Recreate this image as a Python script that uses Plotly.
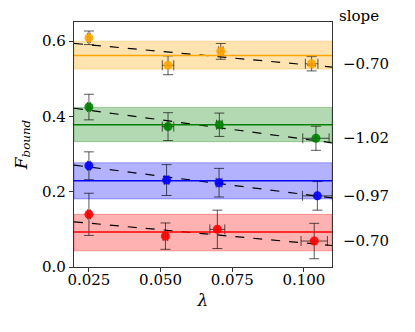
import numpy as np
import plotly.graph_objects as go

# data
colors = ["orange", "green", "blue", "red"]
fill_colors = ["rgba(255,165,0,0.3)", "rgba(0,128,0,0.3)", "rgba(0,0,255,0.3)", "rgba(255,0,0,0.3)"]

lam = [
    [0.025, 0.0526, 0.0710, 0.1027],
    [0.025, 0.0526, 0.0705, 0.1042],
    [0.025, 0.0521, 0.0704, 0.1047],
    [0.025, 0.0517, 0.0698, 0.1036],
]
lam_err = [
    [0.0005, 0.0020, 0.0008, 0.0022],
    [0.0005, 0.0020, 0.0010, 0.0046],
    [0.0005, 0.0008, 0.0010, 0.0052],
    [0.0005, 0.0008, 0.0026, 0.0046],
]
f_bound = [
    [0.609, 0.536, 0.573, 0.540],
    [0.425, 0.373, 0.378, 0.342],
    [0.269, 0.231, 0.224, 0.189],
    [0.140, 0.082, 0.100, 0.069],
]
f_err = [
    [0.018, 0.025, 0.021, 0.019],
    [0.034, 0.037, 0.031, 0.032],
    [0.037, 0.041, 0.038, 0.038],
    [0.056, 0.035, 0.051, 0.047],
]
mean_f = [0.562, 0.378, 0.229, 0.093]
band_lo = [0.526, 0.333, 0.181, 0.043]
band_hi = [0.600, 0.424, 0.277, 0.140]
slopes = [-0.70, -1.02, -0.97, -0.70]
intercepts = [0.608, 0.442, 0.290, 0.134]
slope_labels = ["\u22120.70", "\u22121.02", "\u22120.97", "\u22120.70"]

x_range = [0.0198, 0.1098]
y_range = [0.0, 0.651]
font_family = "DejaVu Serif"

fig = go.Figure()

for i in range(4):
    # spread band
    fig.add_hrect(y0=band_lo[i], y1=band_hi[i], fillcolor=fill_colors[i],
                  line=dict(color=fill_colors[i], width=1), layer="below")
    # mean line
    fig.add_hline(y=mean_f[i], line=dict(color=colors[i], width=1.5))

    # linear fit (dashed)
    xs = np.array(x_range)
    fig.add_trace(go.Scatter(
        x=xs, y=intercepts[i] + slopes[i] * xs, mode="lines",
        line=dict(color="black", width=1.2, dash="dash"), showlegend=False,
    ))

    # data points
    fig.add_trace(go.Scatter(
        x=lam[i], y=f_bound[i], mode="markers",
        marker=dict(size=9, color=colors[i], opacity=0.9, line=dict(width=0)),
        error_y=dict(type="data", array=f_err[i], color="rgba(0,0,0,0.65)", thickness=1, width=5),
        error_x=dict(type="data", array=lam_err[i], color="rgba(0,0,0,0.65)", thickness=1, width=5),
        showlegend=False,
    ))

    fig.add_annotation(x=1.035, xref="paper", y=f_bound[i][-1], yref="y",
                       text=slope_labels[i], showarrow=False, xanchor="left",
                       font=dict(size=15, color="black", family=font_family))

fig.add_annotation(x=1.105, xref="paper", y=1.025, yref="paper", text="slope",
                   showarrow=False, xanchor="center", yanchor="middle",
                   font=dict(size=15, color="black", family=font_family))

axis_style = dict(
    showgrid=False, zeroline=False, showline=True, linecolor="#333", linewidth=1.2,
    mirror=True, ticks="outside", ticklen=4, tickwidth=1, tickcolor="#333",
    tickfont=dict(size=15, color="black", family=font_family),
)

fig.update_xaxes(range=x_range, tickvals=[0.025, 0.05, 0.075, 0.1],
                 ticktext=["0.025", "0.050", "0.075", "0.100"],
                 ticklabelstandoff=-5,
                 title=dict(text="<i>\u03bb</i>", standoff=6,
                            font=dict(size=17, color="black", family=font_family)),
                 **axis_style)
fig.update_yaxes(range=y_range, tickvals=[0.0, 0.2, 0.4, 0.6],
                 ticktext=["0.0", "0.2", "0.4", "0.6"],
                 title=dict(text="<i>F</i><sub><i>bound</i></sub>", standoff=10,
                            font=dict(size=17, color="black", family=font_family)),
                 **axis_style)

# page body has an 8px margin, so the figure is shrunk by that much
fig.update_layout(
    width=407, height=324,
    margin=dict(l=63, r=83, t=14, b=65),
    paper_bgcolor="white", plot_bgcolor="white",
    font=dict(family=font_family, color="black"),
)

fig.write_html("out.html")
